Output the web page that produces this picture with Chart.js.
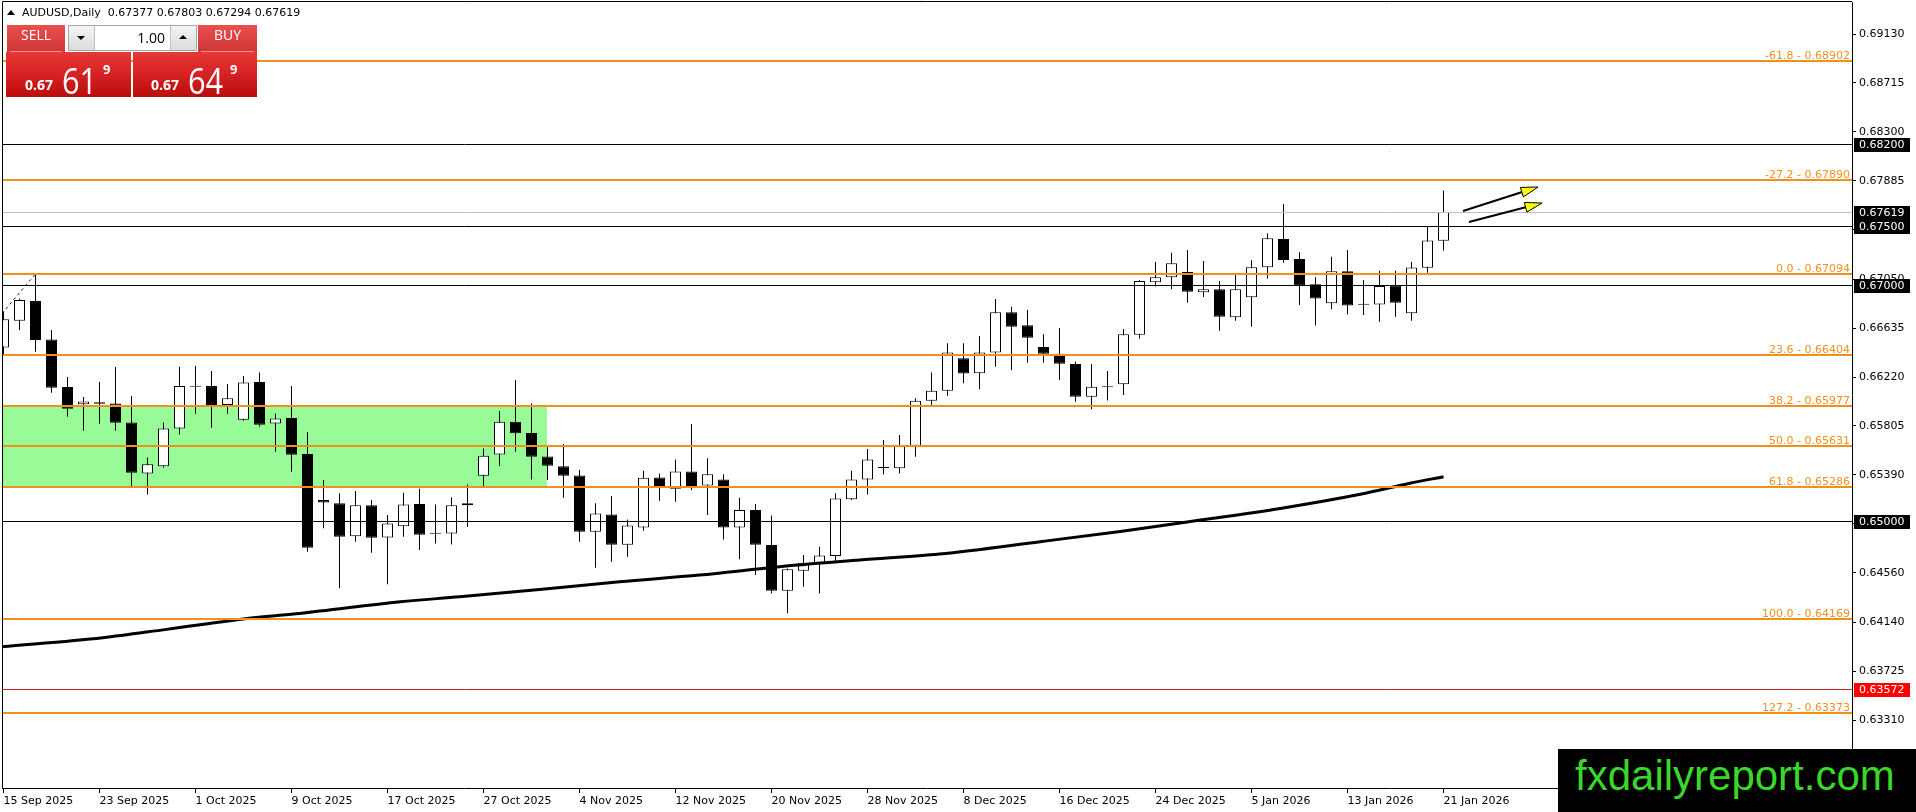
<!DOCTYPE html>
<html><head><meta charset="utf-8">
<script src="https://cdn.jsdelivr.net/npm/chart.js@4.4.1/dist/chart.umd.min.js"></script>
<style>
html,body{margin:0;padding:0;background:#fff;}
#wrap{position:relative;width:1916px;height:812px;overflow:hidden;background:#fff;}
#c{position:absolute;left:0;top:0;}
.abs{position:absolute;}
#title{left:22px;top:6px;font:11px "DejaVu Sans";color:#000;white-space:pre;line-height:13px;}
#tri{left:7px;top:10px;width:0;height:0;border-left:4px solid transparent;border-right:4px solid transparent;border-bottom:5px solid #000;}
.hdr{height:27px;line-height:27px;text-align:center;color:#fff;font:14px "Open Sans";background:linear-gradient(#e85050,#d03434);}
.hline{height:1px;background:#f29090;}
.pbox{height:45px;background:linear-gradient(#e63838 0%,#d82424 45%,#bb0c0c 100%);}
.spin{border:1px solid #a8a8a8;background:#fff;box-sizing:border-box;}
.sbtn{top:0;width:25px;height:24px;background:linear-gradient(#f4f4f4,#dcdcdc);}
.stri{width:0;height:0;border-left:4px solid transparent;border-right:4px solid transparent;}
.w{color:#fff;line-height:1;white-space:pre;}
#logo{left:1558px;top:749px;width:358px;height:63px;background:#000;color:#3cd62a;font:42px "Liberation Sans";line-height:53px;padding-left:17px;box-sizing:border-box;}
</style></head><body>
<div id="wrap">
<canvas id="c" width="1916" height="812"></canvas>
<div id="tri" class="abs"></div>
<div id="title" class="abs">AUDUSD,Daily  0.67377 0.67803 0.67294 0.67619</div>
<div class="abs hdr" style="left:7px;top:25px;width:58px;">SELL</div>
<div class="abs hline" style="left:10px;top:51px;width:52px;"></div>
<div class="abs spin" style="left:68px;top:25px;width:129px;height:26px;">
  <div class="abs sbtn" style="left:0;border-right:1px solid #c0c0c0;"><div class="abs stri" style="left:8px;top:10px;border-top:4px solid #000;"></div></div>
  <div class="abs" style="right:31px;top:2px;font:14px 'Open Sans';color:#000;line-height:20px;">1.00</div>
  <div class="abs sbtn" style="right:0;border-left:1px solid #c0c0c0;"><div class="abs stri" style="left:8px;top:9px;border-bottom:4px solid #000;"></div></div>
</div>
<div class="abs hdr" style="left:198px;top:25px;width:59px;">BUY</div>
<div class="abs hline" style="left:201px;top:51px;width:53px;"></div>
<div class="abs pbox" style="left:6px;top:52px;width:125px;"></div>
<div class="abs pbox" style="left:133px;top:52px;width:124px;"></div>
<div class="abs w" style="left:25px;top:75px;font:bold 14px 'Open Sans';">0.67</div>
<div class="abs w" style="left:62px;top:54px;font:37px 'Open Sans';transform:scaleX(0.83);transform-origin:left top;">61</div>
<div class="abs w" style="left:103px;top:60px;font:bold 13px 'Open Sans';">9</div>
<div class="abs w" style="left:151px;top:75px;font:bold 14px 'Open Sans';">0.67</div>
<div class="abs w" style="left:188px;top:54px;font:37px 'Open Sans';transform:scaleX(0.83);transform-origin:left top;">64</div>
<div class="abs w" style="left:230px;top:60px;font:bold 13px 'Open Sans';">9</div>
<div id="logo" class="abs">fxdailyreport.com</div>
</div>
<script>
// ---------------- DATA ----------------
const dates = [
'15 Sep 2025','16 Sep 2025','17 Sep 2025','18 Sep 2025','19 Sep 2025','22 Sep 2025','23 Sep 2025','24 Sep 2025','25 Sep 2025','26 Sep 2025','29 Sep 2025','30 Sep 2025',
'1 Oct 2025','2 Oct 2025','3 Oct 2025','6 Oct 2025','7 Oct 2025','8 Oct 2025','9 Oct 2025','10 Oct 2025','13 Oct 2025','14 Oct 2025','15 Oct 2025','16 Oct 2025','17 Oct 2025','20 Oct 2025','21 Oct 2025','22 Oct 2025','23 Oct 2025','24 Oct 2025','27 Oct 2025','28 Oct 2025','29 Oct 2025','30 Oct 2025','31 Oct 2025',
'3 Nov 2025','4 Nov 2025','5 Nov 2025','6 Nov 2025','7 Nov 2025','10 Nov 2025','11 Nov 2025','12 Nov 2025','13 Nov 2025','14 Nov 2025','17 Nov 2025','18 Nov 2025','19 Nov 2025','20 Nov 2025','21 Nov 2025','24 Nov 2025','25 Nov 2025','26 Nov 2025','27 Nov 2025','28 Nov 2025',
'1 Dec 2025','2 Dec 2025','3 Dec 2025','4 Dec 2025','5 Dec 2025','8 Dec 2025','9 Dec 2025','10 Dec 2025','11 Dec 2025','12 Dec 2025','15 Dec 2025','16 Dec 2025','17 Dec 2025','18 Dec 2025','19 Dec 2025','22 Dec 2025','23 Dec 2025','24 Dec 2025','26 Dec 2025','29 Dec 2025','30 Dec 2025','31 Dec 2025',
'2 Jan 2026','5 Jan 2026','6 Jan 2026','7 Jan 2026','8 Jan 2026','9 Jan 2026','12 Jan 2026','13 Jan 2026','14 Jan 2026','15 Jan 2026','16 Jan 2026','19 Jan 2026','20 Jan 2026','21 Jan 2026'];

const opens = [0.66471,0.66697,0.66864,0.66539,0.66135,0.65988,0.66005,0.65996,0.65835,0.65402,0.65462,0.65784,
0.66140,0.66143,0.65982,0.65858,0.66177,0.65826,0.65872,0.65566,0.65176,0.65148,0.64868,0.65131,0.64859,0.64953,0.65142,0.64893,0.64893,0.65131,0.65382,0.65563,0.65841,0.65744,0.65546,
0.65462,0.65385,0.64907,0.65054,0.64797,0.64944,0.65368,0.65272,0.65419,0.65300,0.65351,0.64944,0.65091,0.64794,0.64407,0.64576,0.64639,0.64701,0.65182,0.65351,
0.65450,0.65445,0.65637,0.66019,0.66104,0.66379,0.66251,0.66427,0.66769,0.66659,0.66475,0.66418,0.66331,0.66053,0.66135,0.66158,0.66579,0.67023,0.67066,0.67111,0.66939,0.66964,
0.66727,0.66896,0.67151,0.67391,0.67221,0.67007,0.66845,0.67117,0.66836,0.66836,0.66997,0.66760,0.67147,0.67377];
const highs = [0.66774,0.66887,0.67094,0.66618,0.66220,0.66050,0.66177,0.66304,0.66058,0.65538,0.65835,0.66307,
0.66313,0.66270,0.66160,0.66228,0.66259,0.65911,0.66143,0.65753,0.65346,0.65233,0.65252,0.65176,0.65049,0.65238,0.65272,0.65139,0.65199,0.65309,0.65614,0.65931,0.66194,0.65996,0.65628,
0.65651,0.65431,0.65148,0.65210,0.65012,0.65425,0.65402,0.65521,0.65821,0.65530,0.65394,0.65196,0.65142,0.65046,0.64596,0.64709,0.64780,0.65233,0.65425,0.65609,
0.65685,0.65727,0.66039,0.66259,0.66506,0.66506,0.66568,0.66882,0.66817,0.66789,0.66582,0.66636,0.66350,0.66331,0.66271,0.66628,0.67043,0.67196,0.67275,0.67298,0.67204,0.67035,
0.67086,0.67210,0.67439,0.67688,0.67278,0.67066,0.67241,0.67298,0.67043,0.67122,0.67122,0.67195,0.67495,0.67803];
const lows = [0.66398,0.66618,0.66434,0.66087,0.65883,0.65764,0.65824,0.65764,0.65295,0.65224,0.65453,0.65733,
0.65908,0.65790,0.65908,0.65849,0.65798,0.65586,0.65416,0.64738,0.64936,0.64427,0.64822,0.64729,0.64461,0.64865,0.64752,0.64808,0.64800,0.64950,0.65295,0.65464,0.65586,0.65351,0.65346,
0.65196,0.64822,0.64602,0.64653,0.64695,0.64916,0.65170,0.65162,0.65261,0.65049,0.64842,0.64673,0.64540,0.64384,0.64215,0.64441,0.64384,0.64653,0.65176,0.65224,
0.65394,0.65402,0.65544,0.65982,0.66062,0.66167,0.66116,0.66308,0.66280,0.66342,0.66342,0.66195,0.66011,0.65946,0.66020,0.66068,0.66546,0.66987,0.66964,0.66851,0.66899,0.66613,
0.66698,0.66647,0.67055,0.67190,0.66831,0.66656,0.66794,0.66752,0.66746,0.66689,0.66731,0.66698,0.67105,0.67294];
const closes = [0.66709,0.66873,0.66533,0.66129,0.65951,0.66013,0.65993,0.65832,0.65408,0.65479,0.65784,0.66143,
0.66137,0.65982,0.66039,0.66174,0.65815,0.65869,0.65561,0.64772,0.65156,0.64865,0.65131,0.64856,0.64978,0.65139,0.64882,0.64891,0.65131,0.65148,0.65552,0.65841,0.65742,0.65544,0.65467,
0.65382,0.64907,0.65063,0.64797,0.64961,0.65365,0.65295,0.65419,0.65295,0.65394,0.64944,0.65091,0.64797,0.64407,0.64588,0.64644,0.64706,0.65190,0.65351,0.65521,
0.65447,0.65637,0.66019,0.66104,0.66427,0.66249,0.66427,0.66769,0.66647,0.66554,0.66418,0.66333,0.66053,0.66138,0.66134,0.66582,0.67035,0.67066,0.67185,0.66944,0.66964,0.66732,
0.66964,0.67151,0.67397,0.67213,0.66998,0.66885,0.67117,0.66826,0.66834,0.66992,0.66850,0.67150,0.67379,0.67619];

// moving average (bar position, price)
const maX = [-0.2, 6.2, 10.2, 15.8, 18.5, 24.8, 28.5, 33.5, 38.5, 43.5, 48.5, 53.5, 58.5, 64.8, 69.8, 74.8, 79.8, 84.8, 87.9, 90];
const maY = [0.63930,0.64008,0.64079,0.64180,0.64214,0.64313,0.64356,0.64418,0.64483,0.64540,0.64610,0.64667,0.64718,0.64823,0.64910,0.65006,0.65105,0.65225,0.65318,0.65374];

// fibonacci levels
const fibLevels = [-61.8, -27.2, 0.0, 23.6, 38.2, 50.0, 61.8, 100.0, 127.2];
const fibPrices = [0.68902, 0.67890, 0.67094, 0.66404, 0.65977, 0.65631, 0.65286, 0.64169, 0.63373];
const fibBaseX = [-0.1, 2];
const fibBaseY = [0.66758, 0.67094];

// horizontal levels
const blackLevels = [0.68200, 0.67500, 0.67000, 0.65000];
const bidLevel = 0.67619;
const redLevel = 0.63572;

// green zone
const zoneX = [-3, 33.97];
const zoneY = [0.65977, 0.65286];

// arrows [x0, y0, x1, y1]
const arrowX0 = [91.22, 91.59];
const arrowY0 = [0.67628, 0.67535];
const arrowX1 = [95.91, 96.16];
const arrowY1 = [0.67832, 0.67696];

// axis ticks
const yTicks = [0.69130,0.68715,0.68300,0.67885,0.67470,0.67050,0.66635,0.66220,0.65805,0.65390,0.64975,0.64560,0.64140,0.63725,0.63310];
const Y_MIN = 0.627332, Y_MAX = 0.694015;
const X_MIN = -0.09375, X_MAX = 115.53125;

// ---------------- CHART ----------------
const ORANGE = '#f0901e';
const idx = dates.map((d, i) => i);
const xTickIdx = idx.filter(i => i % 6 === 0);
const wickData = idx.map(i => ({x: i, y: [lows[i], highs[i]]}));
const bodyData = idx.map(i => ({x: i, y: [opens[i], closes[i]]}));
const bodyColors = idx.map(i => closes[i] > opens[i] ? '#ffffff' : '#000000');

Chart.defaults.font.family = '"DejaVu Sans"';
Chart.defaults.font.size = 11;
Chart.defaults.color = '#000';

function crisp(v, w) { return (w % 2) ? Math.round(v) + 0.5 : Math.round(v); }

const overlay = {
  id: 'overlay',
  beforeDatasetsDraw(chart) {
    const {ctx, chartArea: a, scales: {x, y}} = chart;
    ctx.save();
    ctx.beginPath(); ctx.rect(a.left, a.top, a.right - a.left, a.bottom - a.top); ctx.clip();
    const gx0 = Math.max(a.left, x.getPixelForValue(zoneX[0]));
    const gx1 = Math.round(x.getPixelForValue(zoneX[1]));
    const gy0 = Math.round(y.getPixelForValue(zoneY[0])), gy1 = Math.round(y.getPixelForValue(zoneY[1]));
    ctx.fillStyle = '#98fb98';
    ctx.fillRect(gx0, gy0, gx1 - gx0, gy1 - gy0);
    ctx.restore();
  },
  afterDatasetsDraw(chart) {
    const {ctx, chartArea: a, scales: {x, y}} = chart;
    ctx.save();
    ctx.beginPath(); ctx.rect(a.left, a.top, a.right - a.left, a.bottom - a.top); ctx.clip();
    const hl = (v, color, w) => {
      const yy = crisp(y.getPixelForValue(v), w);
      ctx.strokeStyle = color; ctx.lineWidth = w;
      ctx.beginPath(); ctx.moveTo(a.left, yy); ctx.lineTo(a.right, yy); ctx.stroke();
    };
    hl(bidLevel, '#c0c0c0', 1);
    blackLevels.forEach(v => hl(v, '#000000', 1));
    hl(redLevel, '#c42424', 1);
    fibPrices.forEach(v => hl(v, ORANGE, 2));
    ctx.font = '11px "DejaVu Sans"';
    ctx.fillStyle = ORANGE;
    ctx.textAlign = 'right';
    ctx.textBaseline = 'alphabetic';
    fibPrices.forEach((v, i) => {
      const yy = Math.round(y.getPixelForValue(v));
      ctx.fillText(fibLevels[i].toFixed(1) + ' - ' + v.toFixed(5), a.right - 2, yy - 2);
    });
    // arrows
    arrowX0.forEach((_, i) => {
      const x0 = x.getPixelForValue(arrowX0[i]), y0 = y.getPixelForValue(arrowY0[i]);
      const x1 = x.getPixelForValue(arrowX1[i]), y1 = y.getPixelForValue(arrowY1[i]);
      const ang = Math.atan2(y1 - y0, x1 - x0);
      const L = 17, W = 5;
      const bx = x1 - L * Math.cos(ang), by = y1 - L * Math.sin(ang);
      ctx.strokeStyle = '#000'; ctx.lineWidth = 2;
      ctx.beginPath(); ctx.moveTo(x0, y0); ctx.lineTo(bx + 2 * Math.cos(ang), by + 2 * Math.sin(ang)); ctx.stroke();
      ctx.beginPath();
      ctx.moveTo(x1, y1);
      ctx.lineTo(bx + W * Math.sin(ang), by - W * Math.cos(ang));
      ctx.lineTo(bx - W * Math.sin(ang), by + W * Math.cos(ang));
      ctx.closePath();
      ctx.fillStyle = '#ffff00'; ctx.fill();
      ctx.lineWidth = 1; ctx.stroke();
    });
    ctx.restore();
  },
  afterDraw(chart) {
    const {ctx, chartArea: a, scales: {y}} = chart;
    ctx.save();
    // frame
    ctx.strokeStyle = '#000'; ctx.lineWidth = 1;
    ctx.beginPath();
    ctx.moveTo(a.left + 0.5, a.bottom); ctx.lineTo(a.left + 0.5, a.top - 0.5); ctx.lineTo(a.right, a.top - 0.5);
    ctx.stroke();
    // price boxes
    const box = (v, bg) => {
      const yy = Math.round(y.getPixelForValue(v));
      ctx.fillStyle = bg;
      ctx.fillRect(a.right + 2, yy - 6, 56, 14);
      ctx.fillStyle = '#fff';
      ctx.font = '11px "DejaVu Sans"';
      ctx.textAlign = 'left'; ctx.textBaseline = 'middle';
      ctx.fillText(v.toFixed(5), a.right + 7, yy + 1);
    };
    blackLevels.forEach(v => box(v, '#000'));
    box(bidLevel, '#000');
    box(redLevel, '#ff0000');
    ctx.restore();
  }
};

new Chart(document.getElementById('c'), {
  type: 'bar',
  data: {
    datasets: [
      {type: 'bar', data: wickData, backgroundColor: '#000', borderWidth: 0, barThickness: 1, grouped: false, inflateAmount: 0, order: 4},
      {type: 'bar', data: bodyData, backgroundColor: bodyColors, borderColor: '#000', borderWidth: 1, borderSkipped: false,
       barThickness: 11, minBarLength: 1, grouped: false, inflateAmount: 0, order: 3},
      {type: 'line', data: fibBaseX.map((v, i) => ({x: v, y: fibBaseY[i]})), borderColor: '#101080', borderWidth: 1,
       borderDash: [3, 3], pointRadius: 0, order: 2},
      {type: 'line', data: maX.map((v, i) => ({x: v, y: maY[i]})), borderColor: '#000', borderWidth: 3,
       pointRadius: 0, cubicInterpolationMode: 'monotone', order: 1}
    ]
  },
  options: {
    responsive: false,
    animation: false,
    devicePixelRatio: 1,
    layout: {padding: {left: 2, top: 2, right: 0, bottom: 0}},
    plugins: {legend: {display: false}, tooltip: {enabled: false}},
    scales: {
      x: {
        type: 'linear', min: X_MIN, max: X_MAX, offset: false,
        afterBuildTicks: s => { s.ticks = xTickIdx.map(v => ({value: v})); },
        afterFit: s => { s.height = 24; s.paddingLeft = 0; s.paddingRight = 0; },
        grid: {display: true, drawOnChartArea: false, drawTicks: true, tickLength: 5, color: '#000', offset: false},
        border: {display: true, color: '#000', width: 1},
        ticks: {callback: v => dates[v], align: 'start', padding: 2, maxRotation: 0, minRotation: 0, autoSkip: false, color: '#000'}
      },
      y: {
        type: 'linear', position: 'right', min: Y_MIN, max: Y_MAX,
        afterBuildTicks: s => { s.ticks = yTicks.map(v => ({value: v})); },
        afterFit: s => { s.width = 64; s.paddingTop = 0; s.paddingBottom = 0; },
        grid: {display: true, drawOnChartArea: false, drawTicks: true, tickLength: 4, color: '#000'},
        border: {display: true, color: '#000', width: 1},
        ticks: {callback: v => v.toFixed(5), padding: 3, autoSkip: false, color: '#000'}
      }
    }
  },
  plugins: [overlay]
});
</script>
</body></html>
